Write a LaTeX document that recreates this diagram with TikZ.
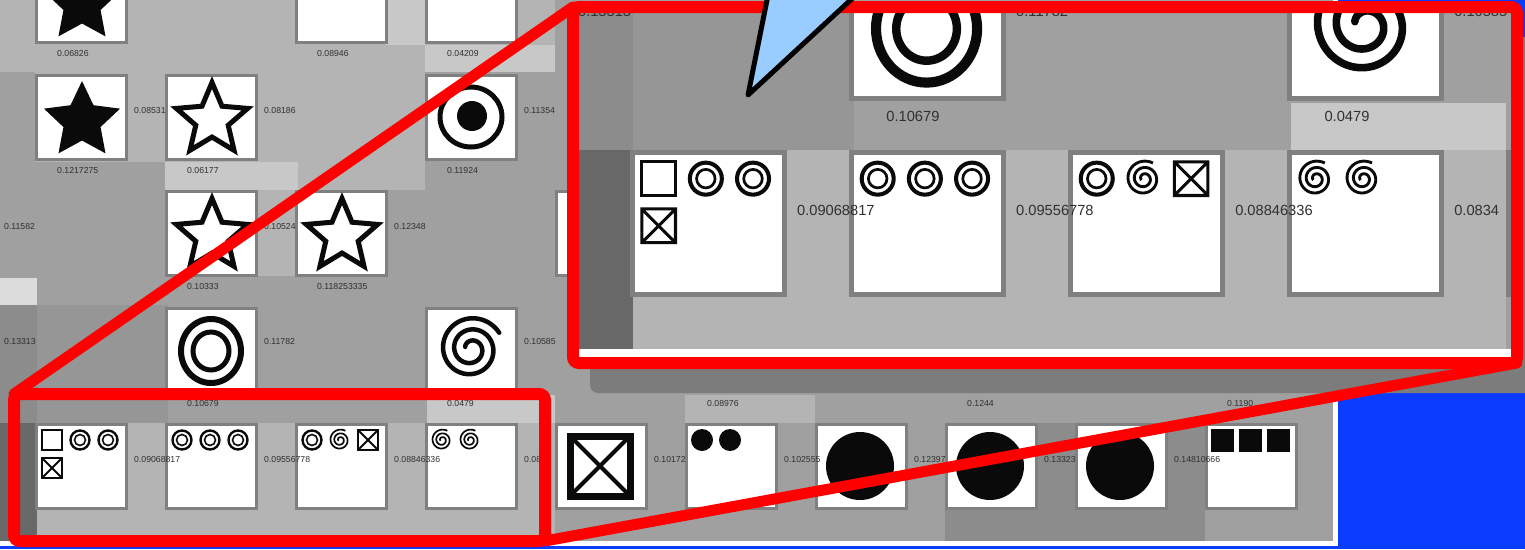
\documentclass[tikz,border=0pt]{standalone}
\usepackage{fontspec}
\setmainfont{Liberation Sans}
\usetikzlibrary{shapes.geometric}

\definecolor{panelgray}{HTML}{A0A0A0}
\definecolor{lightgray1}{HTML}{B4B4B4}
\definecolor{lightgray2}{HTML}{C8C8C8}
\definecolor{palegray}{HTML}{DCDCDC}
\definecolor{midgray}{HTML}{969696}
\definecolor{darkgray1}{HTML}{8C8C8C}
\definecolor{darkgray2}{HTML}{686868}
\definecolor{tileedge}{HTML}{808080}
\definecolor{inkblack}{HTML}{0A0A0A}
\definecolor{inkgray}{HTML}{303030}
\definecolor{screenblue}{HTML}{0A3CFF}
\definecolor{zoomred}{HTML}{FF0000}
\definecolor{shadowgray}{HTML}{7C7C7C}
\definecolor{calloutblue}{HTML}{99CCFF}

% line width factor (1 in the screen, 1.685 in the magnifier)
\def\lwf{1}

% tiles: #1,#2 = top-left corner of the tile
\newcommand\tile[2]{%
  \fill[tileedge] (#1,#2) rectangle ++(93,87);
  \fill[white] (#1+3,#2+3) rectangle ++(87,81);}
\newcommand\starfull[2]{\node[star, star points=5, star point ratio=2.05, minimum size=80pt,
  inner sep=0pt, fill=inkblack] at (#1+47,#2+47) {};}
\newcommand\starhollow[2]{\node[star, star points=5, star point ratio=2.2, minimum size=75pt,
  inner sep=0pt, draw=inkblack, line width=\lwf*5pt] at (#1+47,#2+46) {};}
\newcommand\target[2]{%
  \draw[inkblack, line width=\lwf*5pt] (#1+46,#2+43) ellipse (31 and 30);
  \fill[inkblack] (#1+47,#2+42) circle (15);}
\newcommand\rings[2]{%
  \draw[inkblack, line width=\lwf*6pt] (#1+46,#2+44) ellipse (30 and 32);
  \draw[inkblack, line width=\lwf*5pt] (#1+46,#2+44) ellipse (18 and 19);}
\newcommand\bigspiral[2]{\draw[inkblack, line width=\lwf*4.5pt, line cap=round]
  plot[domain=200:1050, samples=150, smooth, variable=\t]
  ({#1+46+0.031*\t*cos(\t)}, {#2+42+0.031*\t*sin(\t)});}
\newcommand\disc[2]{\fill[inkblack] (#1+45,#2+43) circle (34);}
\newcommand\bigx[2]{%
  \draw[inkblack, line width=\lwf*7pt] (#1+15,#2+13) rectangle (#1+75,#2+73);
  \draw[inkblack, line width=\lwf*4pt] (#1+15,#2+13) -- (#1+75,#2+73) (#1+15,#2+73) -- (#1+75,#2+13);}
% small icons: #1,#2 = centre
\newcommand\sqbox[2]{\draw[inkblack, line width=\lwf*1.8pt] (#1-10,#2-10) rectangle (#1+10,#2+10);}
\newcommand\xbox[2]{\draw[inkblack, line width=\lwf*1.8pt] (#1-10,#2-10) rectangle (#1+10,#2+10)
  (#1-10,#2-10) -- (#1+10,#2+10) (#1-10,#2+10) -- (#1+10,#2-10);}
\newcommand\dcirc[2]{%
  \draw[inkblack, line width=\lwf*2.4pt] (#1,#2) circle (9.5);
  \draw[inkblack, line width=\lwf*1.6pt] (#1,#2) circle (5.5);}
\newcommand\sspiral[2]{\draw[inkblack, line width=\lwf*1.7pt]
  plot[domain=150:1020, samples=90, smooth, variable=\t]
  ({#1+0.0105*\t*cos(\t)}, {#2+0.0105*\t*sin(\t)});}
\newcommand\blob[2]{\fill[inkblack] (#1,#2) circle (11);}
\newcommand\blk[2]{\fill[inkblack] (#1-11.5,#2-11.5) rectangle ++(23,23);}
\newcommand\val[3]{\node[vallabel] at (#1,#2) {#3};}

% upper part of the screen (rows 1-3)
\newcommand\drawupper{%
  \fill[white] (0,0) rectangle (1338,546);
  \fill[panelgray] (0,0) rectangle (1333,541);
  \fill[lightgray1] (0,0) rectangle (555,72);
  \fill[lightgray2] (385,0) rectangle (425,45);
  \fill[lightgray2] (425,45) rectangle (555,72);
  \fill[lightgray1] (35,72) rectangle (425,190);
  \fill[panelgray] (35,162) rectangle (165,190);
  \fill[lightgray2] (165,162) rectangle (298,190);
  \fill[lightgray1] (258,190) rectangle (296,276);
  \fill[palegray] (0,278) rectangle (37,305);
  % row 1
  \tile{35}{-43}\starfull{35}{-43}
  \tile{295}{-43}
  \tile{425}{-43}
  % row 2
  \tile{35}{74}\starfull{35}{74}
  \tile{165}{74}\starhollow{165}{74}
  \tile{425}{74}\target{425}{74}
  % row 3
  \tile{165}{190}\starhollow{165}{190}
  \tile{295}{190}\starhollow{295}{190}
  \tile{555}{190}
  \val{57}{54}{0.06826}\val{317}{54}{0.08946}\val{447}{54}{0.04209}
  \val{134}{111}{0.08531}\val{264}{111}{0.08186}\val{524}{111}{0.11354}
  \val{57}{171}{0.1217275}\val{187}{171}{0.06177}\val{447}{171}{0.11924}
  \val{4}{227}{0.11582}\val{264}{227}{0.10524}\val{394}{227}{0.12348}
  \val{187}{287}{0.10333}\val{317}{287}{0.118253335}
}

% lower left part of the screen (rows 4-5), also seen in the magnifier
\newcommand\drawlower{%
  \fill[white] (0,300) rectangle (1338,546);
  \fill[panelgray] (0,300) rectangle (1333,541);
  \fill[palegray] (0,300) rectangle (37,305);
  \fill[darkgray1] (0,305) rectangle (37,423);
  \fill[midgray] (37,305) rectangle (168,423);
  \fill[lightgray2] (427,395) rectangle (555,423);
  \fill[darkgray2] (0,423) rectangle (37,541);
  \fill[lightgray1] (37,423) rectangle (555,541);
  % row 4
  \tile{165}{307}\rings{165}{307}
  \tile{425}{307}\bigspiral{425}{307}
  % row 5
  \tile{35}{423}\sqbox{52}{440}\dcirc{80}{440}\dcirc{108}{440}\xbox{52}{468}
  \tile{165}{423}\dcirc{182}{440}\dcirc{210}{440}\dcirc{238}{440}
  \tile{295}{423}\dcirc{312}{440}\sspiral{340}{440}\xbox{368}{440}
  \tile{425}{423}\sspiral{442}{440}\sspiral{470}{440}
  \tile{555}{423}
  \val{4}{341}{0.13313}\val{264}{341}{0.11782}\val{524}{341}{0.10585}
  \val{187}{403}{0.10679}\val{447}{403}{0.0479}
  \val{134}{459}{0.09068817}\val{264}{459}{0.09556778}\val{394}{459}{0.08846336}
  \val{524}{459}{0.0834}
}

% lower right part of the screen (row 5, tiles 5-10)
\newcommand\drawright{%
  \fill[lightgray1] (685,395) rectangle (815,423);
  \fill[darkgray1] (945,423) rectangle (1205,541);
  \tile{555}{423}\bigx{555}{423}
  \tile{685}{423}\blob{702}{440}\blob{730}{440}
  \tile{815}{423}\disc{815}{423}
  \tile{945}{423}\disc{945}{423}
  \tile{1075}{423}\disc{1075}{423}
  \tile{1205}{423}\blk{1222}{440}\blk{1250}{440}\blk{1278}{440}
  \val{707}{403}{0.08976}\val{967}{403}{0.1244}\val{1227}{403}{0.1190}
  \val{654}{459}{0.10172}\val{784}{459}{0.102555}
  \val{914}{459}{0.12397}\val{1044}{459}{0.13323}\val{1174}{459}{0.14810666}
}

\begin{document}
\begin{tikzpicture}[x=1pt, y=-1pt,
    vallabel/.style={anchor=west, inner sep=0pt, text=inkgray, font=\fontsize{8.7}{10}\selectfont},
    zoomframe/.style={draw=zoomred, line width=12pt, rounded corners=6pt},
    zoomline/.style={draw=zoomred, line width=11pt, line cap=round},
    callout/.style={fill=calloutblue, draw=black, line width=5pt, line join=round},
  ]
  \useasboundingbox (0,0) rectangle (1525,549);
  \clip (0,0) rectangle (1525,549);
  \fill[screenblue] (0,0) rectangle (1525,549);

  % ===== screen =====
  \drawupper
  \drawlower
  \drawright

  % ===== magnified region =====
  \coordinate (src-nw) at (14,394);
  \coordinate (src-se) at (545,541);
  \coordinate (lens-nw) at (573,7);
  \coordinate (lens-se) at (1517,363);

  \fill[shadowgray, rounded corners=8pt] (590,37) rectangle (1545,393);
  \begin{scope}
    \clip (lens-nw) rectangle (lens-se);
    \begin{scope}[shift={(630,150)}, scale=1.685, shift={(-35,-423)}, transform shape]
      \def\lwf{1.685}
      \drawlower
    \end{scope}
  \end{scope}
  \draw[zoomframe] (src-nw) rectangle (src-se);
  \draw[zoomframe] (lens-nw) rectangle (lens-se);
  \draw[zoomline] (src-nw) -- (lens-nw);
  \draw[zoomline] (src-se) -- (lens-se);

  % ===== pointer =====
  \coordinate (tip) at (748,95);
  \draw[callout] (tip) -- (773,-30) -- (883,-30) -- cycle;
\end{tikzpicture}
\end{document}
